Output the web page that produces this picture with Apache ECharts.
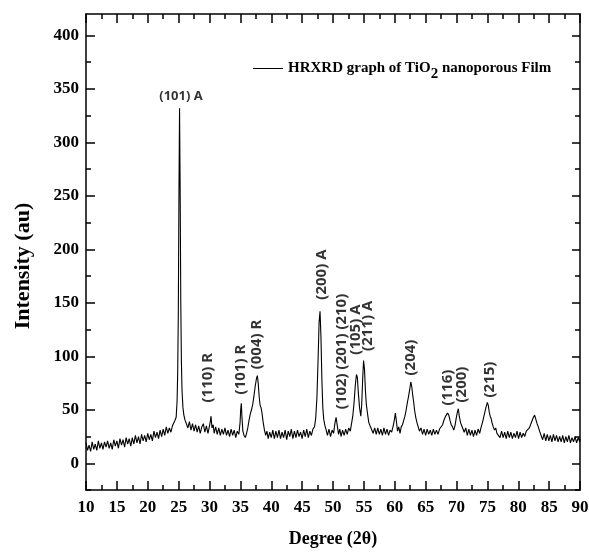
<!DOCTYPE html>
<html>
<head>
<meta charset="utf-8">
<script src="https://cdn.jsdelivr.net/npm/echarts@6/dist/echarts.min.js"></script>
<style>
html,body{margin:0;padding:0;background:#fff;}
#chart{width:589px;height:552px;}
</style>
</head>
<body>
<div id="chart"></div>
<script>
// ---- Data (2θ in degrees, intensity in a.u.) ----
const lowAngleBaseline = [
 [10,19],[10.25,12],[10.5,17],[10.75,11],[11,20],[11.25,13],[11.5,18],[11.75,12],[12,21],[12.25,14],
 [12.5,19],[12.75,13],[13,20],[13.25,15],[13.5,21],[13.75,14],[14,19],[14.25,13],[14.5,22],[14.75,16],
 [15,21],[15.25,14],[15.5,23],[15.75,17],[16,22],[16.25,15],[16.5,24],[16.75,18],[17,23],[17.25,16],
 [17.5,24],[17.75,18],[18,26],[18.25,19],[18.5,25],[18.75,18],[19,27],[19.25,21],[19.5,26],[19.75,20],
 [20,28],[20.25,22],[20.5,27],[20.75,21],[21,30],[21.25,24],[21.5,29],[21.75,23],[22,31],[22.25,25],
 [22.5,32],[22.75,26],[23,34],[23.25,28],[23.5,33],[23.75,29],[24,35]
];
const anatase101Peak = [
 [24.2,36],[24.4,40],[24.6,43],[24.75,58],[24.85,85],[24.95,140],[25.05,250],[25.15,332],[25.25,255],
 [25.35,150],[25.45,95],[25.55,68],[25.7,52],[25.85,45],[26,41]
];
const rutile110Region = [
 [26.25,40],[26.5,33],[26.75,39],[27,31],[27.25,37],[27.5,30],[27.75,36],[28,29],[28.25,35],[28.5,28],
 [28.75,34],[29,37],[29.25,29],[29.5,35],[29.75,28],[30,35],[30.15,40],[30.25,44],[30.4,33],[30.6,36],
 [30.75,28],[31,34],[31.25,27],[31.5,33],[31.75,26],[32,32],[32.25,27],[32.5,33],[32.75,26],[33,31],
 [33.25,25],[33.5,32],[33.75,26],[34,31],[34.25,24],[34.5,30],[34.75,27]
];
const rutile101And004Region = [
 [34.95,38],[35.05,50],[35.15,56],[35.25,44],[35.4,30],[35.6,26],[35.8,24],[36,28],[36.2,33],[36.4,40],
 [36.6,46],[36.8,50],[37,55],[37.2,63],[37.4,72],[37.6,79],[37.75,82],[37.9,74],[38.05,62],[38.2,54],
 [38.35,52],[38.5,47],[38.7,38],[38.9,31],[39.1,26],[39.3,30],[39.5,23],[39.75,29],[40,24]
];
const midBaseline = [
 [40.25,31],[40.5,23],[40.75,30],[41,24],[41.25,31],[41.5,23],[41.75,29],[42,24],[42.25,31],[42.5,22],
 [42.75,30],[43,25],[43.25,32],[43.5,23],[43.75,30],[44,24],[44.25,31],[44.5,25],[44.75,29],[45,23],
 [45.25,31],[45.5,25],[45.75,32],[46,24],[46.25,30]
];
const anatase200Region = [
 [46.5,26],[46.75,32],[47,34],[47.2,42],[47.4,62],[47.6,100],[47.75,132],[47.9,142],[48.05,118],[48.2,78],
 [48.35,52],[48.5,41],[48.7,35],[48.9,31],[49.1,26],[49.35,32],[49.6,25],[49.85,31],[50.1,28],[50.3,37],
 [50.5,43],[50.7,35],[50.9,27],[51.1,32],[51.3,25],[51.55,31],[51.8,26],[52.05,32],[52.3,27],[52.55,33],
 [52.8,30]
];
const anatase105And211Region = [
 [53,37],[53.2,44],[53.4,56],[53.6,72],[53.8,83],[53.95,80],[54.1,66],[54.3,52],[54.5,44],[54.65,55],
 [54.8,78],[54.95,96],[55.1,88],[55.25,68],[55.4,55],[55.6,46],[55.8,38],[56,35]
];
const anatase204Region = [
 [56.25,34],[56.5,28],[56.75,33],[57,27],[57.25,33],[57.5,27],[57.75,32],[58,26],[58.25,33],[58.5,27],
 [58.75,32],[59,26],[59.25,31],[59.5,29],[59.75,35],[59.95,41],[60.1,47],[60.25,40],[60.45,30],[60.65,34],
 [60.85,28],[61.05,34],[61.25,36],[61.45,40],[61.65,44],[61.85,50],[62.05,57],[62.25,63],[62.45,70],[62.6,76],
 [62.75,72],[62.9,64],[63.05,58],[63.2,50],[63.4,43],[63.6,38],[63.8,34],[64,30]
];
const peaks116And200Region = [
 [64.25,33],[64.5,27],[64.75,32],[65,26],[65.25,32],[65.5,27],[65.75,31],[66,26],[66.25,32],[66.5,27],
 [66.75,31],[67,27],[67.25,32],[67.5,33],[67.75,36],[67.95,40],[68.15,43],[68.35,45],[68.55,47],[68.75,45],
 [68.95,40],[69.15,36],[69.35,34],[69.55,31],[69.75,35],[69.95,42],[70.15,48],[70.3,51],[70.45,44],[70.65,38],
 [70.85,35],[71.05,32],[71.25,29]
];
const peak215Region = [
 [71.5,33],[71.75,26],[72,32],[72.25,26],[72.5,31],[72.75,25],[73,31],[73.25,26],[73.5,32],[73.75,28],
 [74,34],[74.2,38],[74.4,43],[74.6,48],[74.8,53],[75,57],[75.15,54],[75.3,48],[75.45,44],[75.6,42],
 [75.75,38],[75.95,34],[76.15,31],[76.35,33],[76.55,28]
];
const highAngleRegion = [
 [76.8,29],[77.05,24],[77.3,30],[77.55,24],[77.8,29],[78.05,23],[78.3,30],[78.55,24],[78.8,29],[79.05,23],
 [79.3,28],[79.55,24],[79.8,30],[80.05,23],[80.3,29],[80.55,24],[80.8,28],[81.05,25],[81.3,30],[81.55,29],
 [81.8,33],[82.05,37],[82.25,40],[82.45,43],[82.65,45],[82.85,41],[83.05,37],[83.25,34],[83.45,30],[83.7,29],
 [83.95,22],[84.2,28],[84.45,21],[84.7,27],[84.95,21],[85.2,26],[85.45,20],[85.7,27],[85.95,21],[86.2,26],
 [86.45,20],[86.7,25],[86.95,20],[87.2,26],[87.45,19],[87.7,25],[87.95,20],[88.2,26],[88.45,19],[88.7,24],
 [88.95,20],[89.2,25],[89.45,19],[89.7,24],[89.95,20],[90,23]
];

// Peak annotations: text, 2θ and intensity of the label centre
const peakLabelTexts = ['(101) A','(110) R','(101) R','(004) R','(200) A','(102) (201) (210)','(105) A','(211) A','(204)','(116)','(200)','(215)'];
const peakLabelX = [25.38, 29.76, 35.1, 37.69, 48.1, 51.45, 53.75, 55.55, 62.63, 68.62, 70.89, 75.43];
const peakLabelY = [342.7, 80, 87.6, 111, 176.4, 104.5, 125, 128.5, 98.8, 70.7, 73.6, 78.2];

// Axis ticks
const xTickInterval = 5;
const yMajorTicks = [0,50,100,150,200,250,300,350,400];
const yMinorTicks = [-25,25,75,125,175,225,275,325,375];

const seriesName = 'HRXRD graph of TiO2 nanoporous Film';

// ---- Build ----
const xrd = [].concat(lowAngleBaseline, anatase101Peak, rutile110Region, rutile101And004Region, midBaseline,
  anatase200Region, anatase105And211Region, anatase204Region, peaks116And200Region, peak215Region, highAngleRegion);

const SERIF = '"Liberation Serif", "Times New Roman", serif';
const SANS = '"Noto Sans", "DejaVu Sans", sans-serif';
const black = '#000';
const axisLineStyle = {color: black, width: 1.5};

const labelData = peakLabelTexts.map((t, i) => ({
  name: t,
  value: [peakLabelX[i], peakLabelY[i]],
  label: i === 0 ? {rotate: 0, fontSize: 13} : {rotate: 90, fontSize: 15}
}));

function xAxisCfg(pos, showLabel, name) {
  return {
    type: 'value', min: 10, max: 90, interval: xTickInterval, position: pos,
    axisLine: {show: true, onZero: false, lineStyle: axisLineStyle},
    axisTick: {show: true, inside: true, length: 9, lineStyle: axisLineStyle},
    minorTick: {show: true, splitNumber: 2, length: 5, lineStyle: axisLineStyle},
    splitLine: {show: false}, minorSplitLine: {show: false},
    axisLabel: {show: showLabel, color: black, fontFamily: SERIF, fontWeight: 'bold', fontSize: 17, margin: 9},
    name: name, nameLocation: 'middle', nameGap: 40,
    nameTextStyle: {color: black, fontFamily: SERIF, fontWeight: 'bold', fontSize: 18}
  };
}
function yAxisCfg(pos, ticks, len, showLine, showLabel, name) {
  return {
    type: 'value', min: -25, max: 420, position: pos,
    axisLine: {show: showLine, onZero: false, lineStyle: axisLineStyle},
    axisTick: {show: true, inside: true, length: len, customValues: ticks, lineStyle: axisLineStyle},
    splitLine: {show: false},
    axisLabel: {show: showLabel, customValues: ticks, color: black, fontFamily: SERIF, fontWeight: 'bold', fontSize: 17, margin: 7},
    name: name, nameLocation: 'middle', nameGap: 52,
    nameTextStyle: {color: black, fontFamily: SERIF, fontWeight: 'bold', fontSize: 22, padding: [0, 28, 0, 0]}
  };
}

const chart = echarts.init(document.getElementById('chart'), null, {renderer: 'canvas'});
chart.setOption({
  animation: false,
  backgroundColor: '#fff',
  grid: {left: 86, right: 9, top: 14, bottom: 62, containLabel: false, outerBoundsMode: 'none'},
  legend: {
    data: [seriesName],
    left: 253, top: 61, padding: 0,
    icon: 'path://M0,0H30V1H0Z',
    itemWidth: 30, itemHeight: 1.2, itemGap: 0,
    formatter: () => '{t|HRXRD graph of TiO}{s|2}{t| nanoporous Film}',
    textStyle: {
      color: black,
      rich: {
        t: {fontFamily: SERIF, fontWeight: 'bold', fontSize: 15, color: black},
        s: {fontFamily: SERIF, fontWeight: 'bold', fontSize: 15, color: black, padding: [12, 0, 0, 0]}
      }
    },
    itemStyle: {color: black}
  },
  xAxis: [xAxisCfg('bottom', true, 'Degree (2θ)'), xAxisCfg('top', false, '')],
  yAxis: [
    yAxisCfg('left', yMajorTicks, 9, true, true, 'Intensity (au)'),
    yAxisCfg('left', yMinorTicks, 5, false, false, ''),
    yAxisCfg('right', yMajorTicks, 8, true, false, ''),
    yAxisCfg('right', yMinorTicks, 5, false, false, '')
  ],
  series: [
    {
      name: seriesName, type: 'line', xAxisIndex: 0, yAxisIndex: 0,
      data: xrd, symbol: 'none', showSymbol: false,
      lineStyle: {color: black, width: 1.1}, itemStyle: {color: black},
      silent: true
    },
    {
      name: 'labels', type: 'scatter', xAxisIndex: 0, yAxisIndex: 0,
      data: labelData, symbolSize: 0, silent: true,
      label: {show: true, position: 'inside', formatter: p => p.name, color: black, fontFamily: SANS, fontWeight: 'bold'}
    }
  ]
});
</script>
</body>
</html>
